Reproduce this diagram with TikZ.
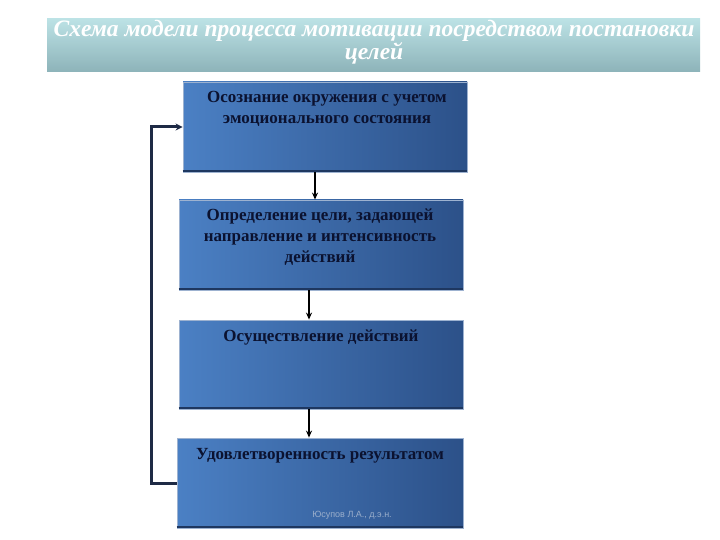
\documentclass[tikz,border=0pt]{standalone}
\usepackage{fontspec}
\setmainfont{Liberation Serif}
\setsansfont{Liberation Sans}
\usetikzlibrary{arrows.meta}
\definecolor{boxL}{HTML}{4B80C4}
\definecolor{boxR}{HTML}{2C5189}
\definecolor{boxEdge}{HTML}{1E3760}
\definecolor{boxRim}{HTML}{9DB2D0}
\definecolor{banTop}{HTML}{BCE2E5}
\definecolor{banBot}{HTML}{8DB3B9}
\definecolor{txtNavy}{HTML}{0B1230}
\definecolor{loopNavy}{HTML}{1E2A45}
\definecolor{wmark}{HTML}{9AAECB}
\tikzset{
  stagebox/.style={rectangle, draw=boxRim, line width=0.8pt, left color=boxL, right color=boxR, inner sep=0pt},
  stagetext/.style={anchor=north, align=center, text=txtNavy, font=\fontsize{17}{21}\selectfont\bfseries, inner sep=0pt},
  arr/.style={draw=black, line width=2pt, -{Stealth[length=7pt,width=6pt]}},
  loopline/.style={draw=loopNavy, line width=3pt, -{Stealth[length=7pt,width=7pt]}},
}
\begin{document}
\begin{tikzpicture}[x=1pt,y=-1pt]
\useasboundingbox (0,0) rectangle (720,540);
% title banner
\node[rectangle, minimum width=653pt, minimum height=53pt, inner sep=0pt, top color=banTop, bottom color=banBot] (banner) at (373.5,45.5) {};
\node[text=white, align=center, font=\fontsize{23.5}{19}\selectfont\bfseries\itshape, inner sep=0pt] (title) at (374,42.5) {Схема модели процесса мотивации посредством постановки\\целей};
% boxes
\node[stagebox, minimum width=284pt, minimum height=90pt] (b1) at (325,127) {};
\node[stagebox, minimum width=284pt, minimum height=90pt] (b2) at (321,245) {};
\node[stagebox, minimum width=284pt, minimum height=89pt] (b3) at (321,364.5) {};
\node[stagebox, minimum width=286pt, minimum height=90pt] (b4) at (320,483) {};
\foreach \b in {b1,b2,b3,b4}{
  \draw[boxEdge, line width=2pt] ([yshift=1pt]\b.south west) -- ([yshift=1pt]\b.south east);
}
\node[stagetext] (t1) at (327,91) {Осознание окружения с учетом\\эмоционального состояния};
\node[stagetext] (t2) at (320,209) {Определение цели, задающей\\направление и интенсивность\\действий};
\node[stagetext] (t3) at (321,330) {Осуществление действий};
\node[stagetext] (t4) at (320,448) {Удовлетворенность результатом};
\node[text=wmark, font=\sffamily\fontsize{9}{10}\selectfont, inner sep=0pt] (wm) at (352,515) {Юсупов Л.А., д.э.н.};
% arrows
\coordinate (c1) at (315,0);
\coordinate (c2) at (309,0);
\draw[arr] (b1.south -| c1) -- (b2.north -| c1);
\draw[arr] (b2.south -| c2) -- (b3.north -| c2);
\draw[arr] (b3.south -| c2) -- (b4.north -| c2);
% feedback loop
\coordinate (lp) at (151,0);
\draw[loopline] (b4.west) -- (b4.west -| lp) -- (b1.west -| lp) -- (b1.west);
\end{tikzpicture}
\end{document}
